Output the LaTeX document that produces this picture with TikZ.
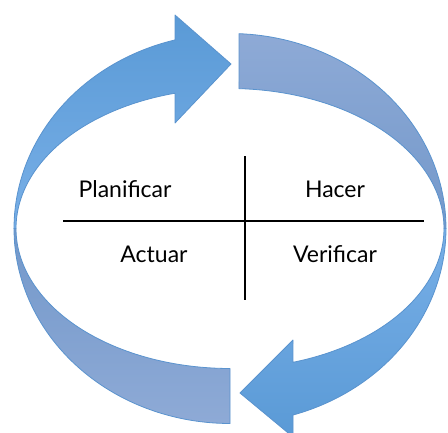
\documentclass[tikz,border=0pt]{standalone}
\usepackage{fontspec}
\setmainfont{Lato}
\definecolor{edgeblue}{HTML}{5A93CE}
\definecolor{frontdark}{HTML}{5A9AD6}
\definecolor{frontlight}{HTML}{78AFE7}
\definecolor{backdark}{HTML}{7398CA}
\definecolor{backlight}{HTML}{8EAAD6}
\tikzset{
  band/.style={draw=edgeblue, line width=0.8pt, line join=round},
  label/.style={anchor=base, inner sep=0pt, font=\fontsize{23}{26}\selectfont},
  rule/.style={line width=1.8pt, black}
}
\begin{document}
\begin{tikzpicture}[x=1pt, y=-1pt]
  \useasboundingbox (0,0) rectangle (448,432);
  \clip (0,0) rectangle (448,432);
  % ring geometry: centre (230,228.5); outer a=216,b=195; inner a=214,b=140
  % back (tail) half of the left arrow, lower left
  \path[band, top color=backdark, bottom color=backlight]
    plot[domain=180:270, samples=60] ({230+216*cos(\x)},{228.5-195*sin(\x)})
    -- plot[domain=270:180, samples=60] ({230+214*cos(\x)},{228.5-140*sin(\x)})
    -- cycle;
  % back (tail) half of the right arrow, upper right
  \path[band, top color=backlight, bottom color=backdark]
    plot[domain=87.6:0, samples=60] ({230+216*cos(\x)},{228.5-195*sin(\x)})
    -- plot[domain=0:87.59, samples=60] ({230+214*cos(\x)},{228.5-140*sin(\x)})
    -- cycle;
  % front half of the left arrow with its head at the top
  \path[band, top color=frontdark, bottom color=frontlight]
    plot[domain=180:104.75, samples=60] ({230+216*cos(\x)},{228.5-195*sin(\x)})
    -- (175,15) -- (231,64) -- (175,123)
    -- plot[domain=104.89:180, samples=60] ({230+214*cos(\x)},{228.5-140*sin(\x)})
    -- cycle;
  % front half of the right arrow with its head at the bottom
  \path[band, top color=frontlight, bottom color=frontdark]
    plot[domain=0:-73.04, samples=60] ({230+216*cos(\x)},{228.5-195*sin(\x)})
    -- (293,437) -- (240,393) -- (293,340)
    -- plot[domain=-72.88:0, samples=60] ({230+214*cos(\x)},{228.5-140*sin(\x)})
    -- cycle;
  % the four quadrants
  \coordinate (hl) at (63,221);
  \coordinate (hr) at (424,221);
  \coordinate (vt) at (245,156);
  \coordinate (vb) at (245,300);
  \draw[rule] (hl) -- (hr);
  \draw[rule] (vt) -- (vb);
  \node[label] (plan) at (125,197) {Planificar};
  \node[label] (hacer) at (335,197) {Hacer};
  \node[label] (actuar) at (154,262.5) {Actuar};
  \node[label] (verif) at (335,262.5) {Verificar};
\end{tikzpicture}
\end{document}
